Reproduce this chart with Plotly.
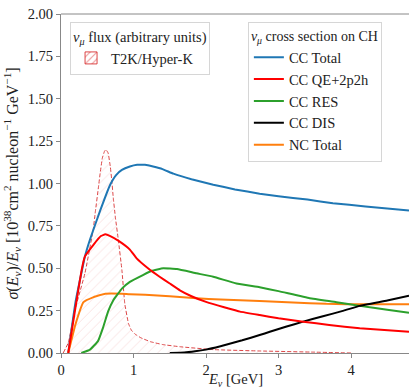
import plotly.graph_objects as go

# Flux (arbitrary units)
flux_x = [0.03, 0.10, 0.19, 0.33, 0.445, 0.47, 0.52, 0.54, 0.57, 0.60, 0.62, 0.65, 0.68, 0.70, 0.72, 0.75, 0.79, 0.84, 0.88, 0.93, 0.97, 1.02, 1.10, 1.23, 1.40, 1.64, 2.10, 2.74, 3.50, 4.00]
flux_y = [0.00, 0.06, 0.25, 0.47, 0.73, 0.82, 0.99, 1.06, 1.15, 1.19, 1.20, 1.18, 1.10, 1.02, 0.92, 0.80, 0.67, 0.49, 0.29, 0.175, 0.135, 0.112, 0.09, 0.067, 0.05, 0.037, 0.02, 0.012, 0.005, 0.0]

# Cross sections
cc_total_x = [0.10, 0.20, 0.33, 0.40, 0.54, 0.675, 0.76, 0.84, 0.95, 1.05, 1.16, 1.27, 1.40, 1.55, 1.80, 2.10, 2.40, 2.74, 3.00, 3.40, 3.75, 4.20, 4.80]
cc_total_y = [0.00, 0.30, 0.57, 0.67, 0.84, 0.99, 1.05, 1.08, 1.10, 1.11, 1.11, 1.10, 1.085, 1.058, 1.025, 0.993, 0.965, 0.94, 0.925, 0.905, 0.884, 0.865, 0.84]

cc_qe_x = [0.10, 0.20, 0.285, 0.33, 0.45, 0.55, 0.61, 0.68, 0.80, 0.95, 1.04, 1.20, 1.36, 1.50, 1.64, 1.80, 2.01, 2.25, 2.47, 2.74, 3.00, 3.34, 3.70, 4.12, 4.80]
cc_qe_y = [0.00, 0.27, 0.49, 0.57, 0.64, 0.69, 0.70, 0.69, 0.66, 0.61, 0.56, 0.50, 0.45, 0.41, 0.37, 0.335, 0.30, 0.27, 0.244, 0.224, 0.205, 0.185, 0.165, 0.146, 0.126]

cc_res_x = [0.28, 0.40, 0.51, 0.58, 0.65, 0.72, 0.84, 0.95, 1.13, 1.25, 1.41, 1.60, 1.87, 2.10, 2.42, 2.74, 3.00, 3.43, 3.80, 4.12, 4.50, 4.80]
cc_res_y = [0.00, 0.02, 0.07, 0.15, 0.245, 0.31, 0.38, 0.42, 0.46, 0.485, 0.50, 0.495, 0.47, 0.45, 0.41, 0.388, 0.365, 0.323, 0.30, 0.278, 0.255, 0.238]

cc_dis_x = [1.50, 1.70, 1.85, 2.00, 2.20, 2.50, 2.74, 2.88, 3.10, 3.34, 3.60, 3.90, 4.12, 4.50, 4.80]
cc_dis_y = [0.00, 0.003, 0.01, 0.02, 0.04, 0.075, 0.106, 0.125, 0.155, 0.185, 0.215, 0.25, 0.278, 0.31, 0.338]

nc_x = [0.10, 0.20, 0.31, 0.45, 0.61, 0.84, 0.95, 1.16, 1.50, 1.87, 2.20, 2.74, 3.20, 3.66, 4.20, 4.80]
nc_y = [0.00, 0.17, 0.30, 0.33, 0.35, 0.35, 0.346, 0.343, 0.335, 0.323, 0.315, 0.307, 0.298, 0.29, 0.287, 0.287]

series = [
    ("CC Total", cc_total_x, cc_total_y, "#1f77b4"),
    ("CC QE+2p2h", cc_qe_x, cc_qe_y, "#ff0000"),
    ("CC RES", cc_res_x, cc_res_y, "#2ca02c"),
    ("CC DIS", cc_dis_x, cc_dis_y, "#000000"),
    ("NC Total", nc_x, nc_y, "#ff7f0e"),
]

FONT = "Liberation Serif, Times New Roman, Times, serif"

fig = go.Figure()

fig.add_trace(go.Scatter(
    x=flux_x, y=flux_y, mode="lines", name="T2K/Hyper-K",
    line=dict(color="rgba(214,39,40,0.85)", width=1, dash="4px,2px", shape="spline", smoothing=0.3),
    fill="toself", fillcolor="rgba(0,0,0,0)",
    fillpattern=dict(shape="/", fgcolor="rgba(230,120,120,0.5)", bgcolor="rgba(255,255,255,0)", size=7, solidity=0.12),
    showlegend=False, hoverinfo="skip",
))
# legend swatch for the flux (hatched box)
fig.add_trace(go.Bar(
    x=[None], y=[None], name="T2K/Hyper-K",
    marker=dict(color="white", line=dict(color="rgba(214,39,40,0.85)", width=1),
                pattern=dict(shape="/", fgcolor="rgba(214,39,40,0.85)", bgcolor="white", size=6, solidity=0.25)),
    legend="legend", showlegend=True,
))

ranks = {"CC Total": 1, "CC QE+2p2h": 2, "CC RES": 3, "CC DIS": 4, "NC Total": 5}
order = ["CC Total", "NC Total", "CC RES", "CC DIS", "CC QE+2p2h"]
traces = {}
for name, xs, ys, col in series:
    traces[name] = go.Scatter(
        x=xs, y=ys, mode="lines", name=name,
        line=dict(color=col, width=2, shape="spline", smoothing=0.3),
        legend="legend2", legendrank=ranks[name], showlegend=True,
    )
for n in order:
    fig.add_trace(traces[n])

legend_common = dict(
    bgcolor="rgba(255,255,255,0.85)", bordercolor="#d6d6d6", borderwidth=1,
    font=dict(family=FONT, size=14.5, color="#222"),
    xanchor="left", yanchor="top", traceorder="normal",
)

fig.update_layout(
    width=409, height=389,
    showlegend=True,
    margin=dict(l=61, r=0, t=14, b=36),
    paper_bgcolor="white", plot_bgcolor="white",
    font=dict(family=FONT, size=14, color="#222"),
    legend=dict(x=0.026, y=0.976, title=dict(text="<i>ν</i><sub><i>μ</i></sub> flux (arbitrary units)", side="top", font=dict(family=FONT, size=14.5)), **legend_common),
    legend2=dict(x=0.537, y=0.976, title=dict(text="<i>ν</i><sub><i>μ</i></sub> cross section on CH", side="top", font=dict(family=FONT, size=14)), **legend_common),
    xaxis=dict(
        range=[0, 4.8], tickvals=[0, 1, 2, 3, 4], ticks="outside", ticklen=4, tickcolor="#888",
        showline=True, linecolor="#888", linewidth=1, showgrid=False, zeroline=False,
        tickfont=dict(family=FONT, size=14.5, color="#222"),
    ),
    yaxis=dict(
        range=[0, 2], tickvals=[0, 0.25, 0.5, 0.75, 1.0, 1.25, 1.5, 1.75, 2.0], tickformat=".2f",
        ticks="outside", ticklen=4, tickcolor="#888",
        showline=True, linecolor="#888", linewidth=1, showgrid=False, zeroline=False,
        tickfont=dict(family=FONT, size=14.5, color="#222"),
        title=dict(text="<i>σ</i>(<i>E</i><sub><i>ν</i></sub>)/<i>E</i><sub><i>ν</i></sub> [10<sup>38</sup>cm<sup>2</sup> nucleon<sup>−1</sup> GeV<sup>−1</sup>]",
                   font=dict(family=FONT, size=16), standoff=5),
    ),
    annotations=[dict(text="<i>E</i><sub><i>ν</i></sub> [GeV]", xref="paper", yref="paper", x=0.5, y=-0.079,
                      xanchor="center", yanchor="middle", showarrow=False, font=dict(family=FONT, size=14.5, color="#222"))],
    shapes=[dict(type="line", xref="paper", yref="paper", x0=0, x1=1, y0=1, y1=1, line=dict(color="#888", width=1))],
)

fig.write_html("out.html")
